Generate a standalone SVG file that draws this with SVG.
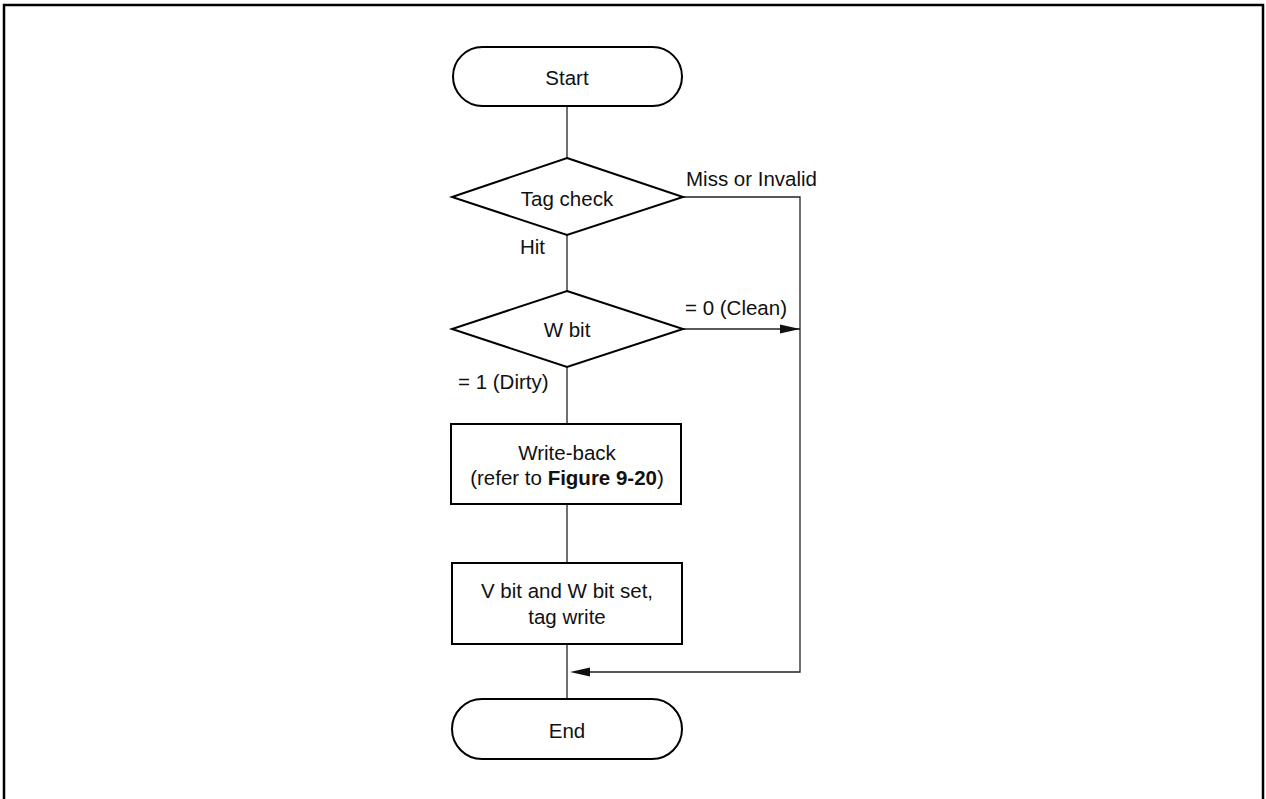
<svg xmlns="http://www.w3.org/2000/svg" width="1266" height="799" viewBox="0 0 1266 799">
<style>
.sh{fill:#fff;stroke:#000;stroke-width:2}
.cn{fill:none;stroke:#222;stroke-width:1.3}
text{font-family:"Liberation Sans",Arial,sans-serif;font-size:20.5px;fill:#111}
.c{text-anchor:middle}
</style>
<defs>
<marker id="ah" markerWidth="20" markerHeight="10" refX="20" refY="5" orient="auto" markerUnits="userSpaceOnUse">
<path d="M0,0.5 L20,5 L0,9.5 Z" fill="#111"/>
</marker>
</defs>
<rect x="4" y="5" width="1259" height="800" fill="#fff" stroke="#000" stroke-width="2.5"/>
<g id="connectors">
<line class="cn" x1="567" y1="106" x2="567" y2="158"/>
<line class="cn" x1="567" y1="235" x2="567" y2="291"/>
<line class="cn" x1="567" y1="367" x2="567" y2="424"/>
<line class="cn" x1="567" y1="504" x2="567" y2="563"/>
<line class="cn" x1="567" y1="644" x2="567" y2="699"/>
<polyline class="cn" points="683,197 800,197 800,672 590,672"/>
<path d="M590,667.5 L570,672 L590,676.5 Z" fill="#111"/>
<line class="cn" x1="683" y1="329" x2="800" y2="329" marker-end="url(#ah)"/>
</g>
<g id="start">
<rect class="sh" x="453" y="47" width="229" height="59" rx="29.5" ry="29.5"/>
<text class="c" x="567" y="85">Start</text>
</g>
<g id="tagcheck">
<polygon class="sh" points="567,158 683,197 567,235 452,197"/>
<text class="c" x="567" y="206">Tag check</text>
</g>
<g id="labels">
<text x="686" y="186">Miss or Invalid</text>
<text x="520" y="254">Hit</text>
<text x="685" y="315">= 0 (Clean)</text>
<text x="458" y="389">= 1 (Dirty)</text>
</g>
<g id="wbit">
<polygon class="sh" points="567,291 683,329 567,367 452,329"/>
<text class="c" x="567" y="337">W bit</text>
</g>
<g id="writeback">
<rect class="sh" x="451" y="424" width="230" height="80"/>
<text class="c" x="567" y="460">Write-back</text>
<text class="c" x="567" y="485">(refer to <tspan font-weight="bold">Figure 9-20</tspan>)</text>
</g>
<g id="vwset">
<rect class="sh" x="452" y="563" width="230" height="81"/>
<text class="c" x="567" y="598">V bit and W bit set,</text>
<text class="c" x="567" y="624">tag write</text>
</g>
<g id="end">
<rect class="sh" x="452" y="699" width="230" height="60" rx="30" ry="30"/>
<text class="c" x="567" y="738">End</text>
</g>
</svg>
